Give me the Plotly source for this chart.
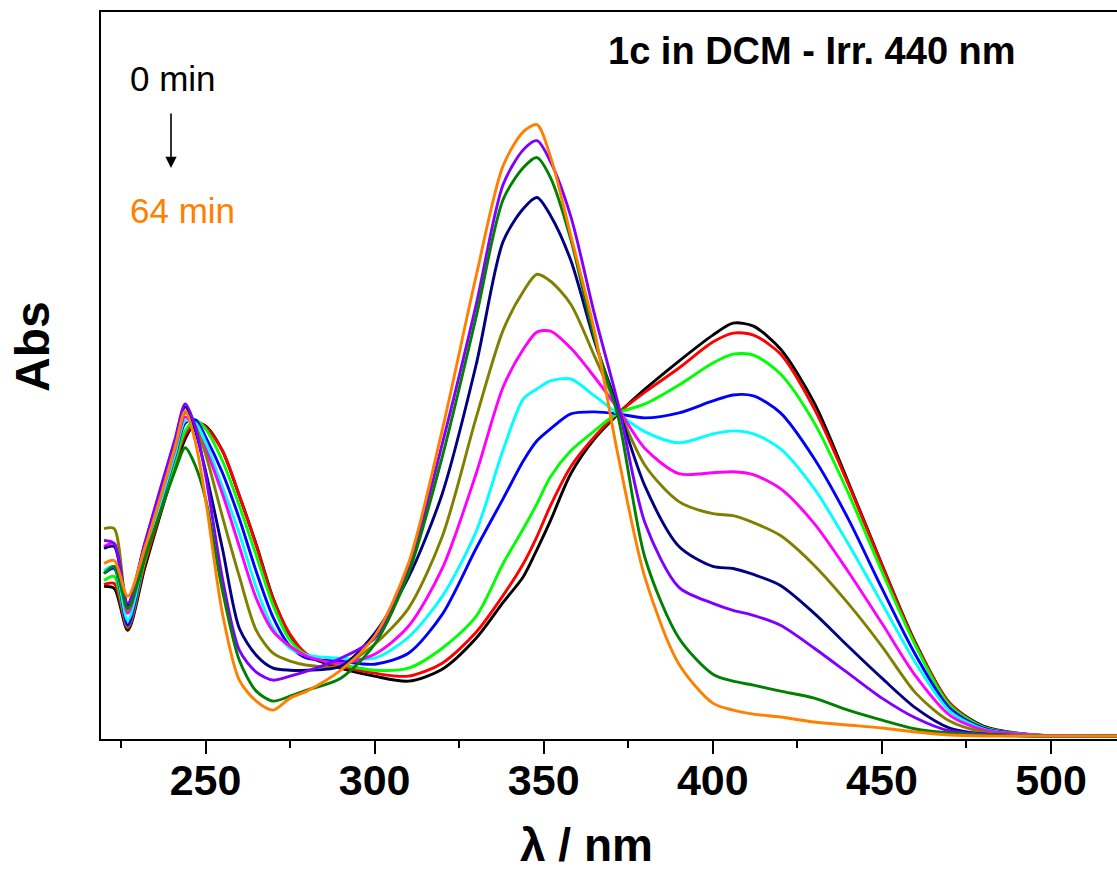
import plotly.graph_objects as go

# wavelength grid (nm)
wavelength = [220, 223, 227, 232, 237, 241, 244, 247, 250, 255, 260, 265, 270, 275, 280,
              290, 300, 310, 320, 330, 338, 344, 348, 352, 358, 365, 372, 380, 390, 400,
              406, 412, 420, 430, 440, 450, 460, 470, 480, 495, 520]

abs_0 = [.151, .149, .107, .169, .227, .271, .299, .315, .312, .287, .242, .193, .139, .102, .082,
         .069, .061, .056, .068, .099, .135, .161, .188, .217, .264, .299, .324, .349, .377, .403,
         .415, .412, .389, .335, .256, .173, .094, .034, .011, .002, .001]
abs_1 = [.153, .154, .109, .173, .229, .274, .303, .315, .311, .287, .242, .192, .138, .103, .083,
         .071, .064, .061, .074, .105, .142, .174, .201, .232, .271, .301, .325, .346, .370, .396,
         .405, .403, .384, .329, .254, .172, .093, .034, .010, .002, .001]
abs_2 = [.157, .161, .111, .177, .233, .277, .307, .318, .309, .277, .232, .182, .132, .097, .082,
         .073, .067, .069, .089, .121, .174, .209, .234, .261, .287, .307, .325, .334, .353, .375,
         .384, .383, .364, .315, .245, .166, .091, .032, .010, .002, .001]
abs_3 = [.164, .169, .112, .181, .237, .282, .315, .318, .301, .265, .219, .166, .120, .091, .079,
         .076, .073, .084, .123, .189, .239, .277, .297, .309, .324, .326, .324, .320, .325, .337,
         .343, .342, .325, .279, .219, .149, .082, .029, .009, .002, .001]
abs_4 = [.167, .171, .117, .183, .239, .284, .317, .315, .296, .251, .204, .150, .109, .089, .082,
         .079, .079, .100, .141, .206, .288, .339, .349, .357, .359, .342, .324, .306, .295, .304,
         .307, .304, .289, .249, .194, .134, .074, .026, .008, .002, .001]
abs_5 = [.191, .194, .124, .187, .244, .289, .321, .309, .289, .244, .191, .139, .106, .091, .081,
         .074, .083, .111, .169, .264, .351, .389, .406, .407, .390, .361, .329, .289, .264, .265,
         .266, .263, .249, .214, .166, .114, .061, .022, .007, .002, .001]
abs_6 = [.209, .209, .127, .189, .247, .291, .325, .312, .284, .221, .161, .107, .084, .076, .072,
         .071, .093, .129, .201, .320, .408, .447, .464, .457, .434, .382, .329, .272, .236, .224,
         .222, .215, .202, .172, .134, .091, .044, .016, .005, .001, .001]
abs_7 = [.189, .191, .132, .193, .251, .297, .331, .307, .267, .189, .109, .082, .069, .067, .067,
         .071, .104, .160, .244, .373, .497, .530, .541, .523, .478, .397, .330, .251, .191, .171,
         .169, .163, .152, .124, .091, .059, .029, .009, .003, .001, .001]
abs_8 = [.197, .194, .134, .194, .253, .299, .334, .311, .263, .159, .087, .065, .057, .061, .066,
         .079, .099, .169, .294, .433, .554, .589, .598, .577, .522, .424, .334, .214, .150, .134,
         .127, .122, .112, .089, .064, .039, .019, .006, .003, .001, .001]
abs_9 = [.164, .171, .129, .179, .229, .267, .290, .272, .239, .147, .077, .046, .036, .041, .047,
         .059, .093, .164, .281, .421, .539, .571, .581, .561, .499, .400, .321, .179, .099, .063,
         .056, .052, .046, .039, .027, .017, .008, .004, .002, .001, .001]
abs_10 = [.174, .177, .141, .189, .244, .291, .327, .296, .239, .124, .057, .036, .027, .039, .046,
          .067, .101, .174, .308, .462, .573, .607, .614, .582, .503, .407, .282, .159, .073, .034,
          .027, .023, .020, .015, .012, .009, .005, .002, .001, .001, .001]

series = [abs_0, abs_1, abs_2, abs_3, abs_4, abs_5, abs_6, abs_7, abs_8, abs_9, abs_10]
colors = ["#000000", "#FF0000", "#00FF00", "#0000FF", "#00FFFF", "#FF00FF",
          "#808000", "#000080", "#8000FF", "#008000", "#FF8000"]
x_ticks = [250, 300, 350, 400, 450, 500]

FONT = "Liberation Sans, Arial, sans-serif"

fig = go.Figure()
for ys, c in zip(series, colors):
    fig.add_trace(go.Scatter(x=wavelength, y=ys, mode="lines",
                             line=dict(color=c, width=2.9, shape="spline", smoothing=0.8),
                             showlegend=False, hoverinfo="skip"))

W, H = 1117, 873
L, R, T, B = 101, 0, 12, 134
pw, ph = W - L - R, H - T - B


def px(xp):
    return (xp - L) / pw


def py(yp):
    return (H - B - yp) / ph


fig.update_layout(
    width=W, height=H,
    margin=dict(l=L, r=R, t=T, b=B),
    paper_bgcolor="white", plot_bgcolor="white",
    font=dict(family=FONT, color="black"),
    xaxis=dict(range=[219.1, 519.5], tickvals=x_ticks, ticks="outside", ticklen=13, tickwidth=2,
               tickcolor="black", showline=True, linewidth=2, linecolor="black", mirror=True,
               showgrid=False, zeroline=False, ticklabelstandoff=-11,
               tickfont=dict(family=FONT, size=43, color="black", weight="bold"),
               minor=dict(tickvals=[225, 275, 325, 375, 425, 475], ticks="outside", ticklen=7,
                          tickwidth=2, tickcolor="black", showgrid=False)),
    yaxis=dict(range=[-0.002, 0.727], showline=True, linewidth=2, linecolor="black",
               ticks="", showticklabels=False, showgrid=False, zeroline=False),
)

ann = [
    dict(text="<b>1c in DCM - Irr. 440 nm</b>", x=px(812), y=py(51), xanchor="center",
         yanchor="middle", font=dict(size=38, color="black")),
    dict(text="0 min", x=px(128), y=py(78), xanchor="left", yanchor="middle",
         font=dict(size=35, color="black")),
    dict(text="64 min", x=px(128), y=py(210), xanchor="left", yanchor="middle",
         font=dict(size=35, color="#FF8000")),
    dict(text="<b>λ / nm</b>", x=px(586), y=py(872), xanchor="center", yanchor="bottom",
         borderpad=0, font=dict(size=46, color="black")),
    dict(text="<b>Abs</b>", x=px(32), y=py(347), xanchor="center", yanchor="middle",
         textangle=-90, font=dict(size=48, color="black")),
]
for a in ann:
    fig.add_annotation(xref="paper", yref="paper", showarrow=False, **a)

fig.add_annotation(xref="paper", yref="paper", x=px(171), y=py(168), ax=0, ay=-56,
                   axref="pixel", ayref="pixel", showarrow=True, arrowhead=2, arrowsize=1.4,
                   arrowwidth=1.6, arrowcolor="black", text="")

fig.write_html("out.html")
